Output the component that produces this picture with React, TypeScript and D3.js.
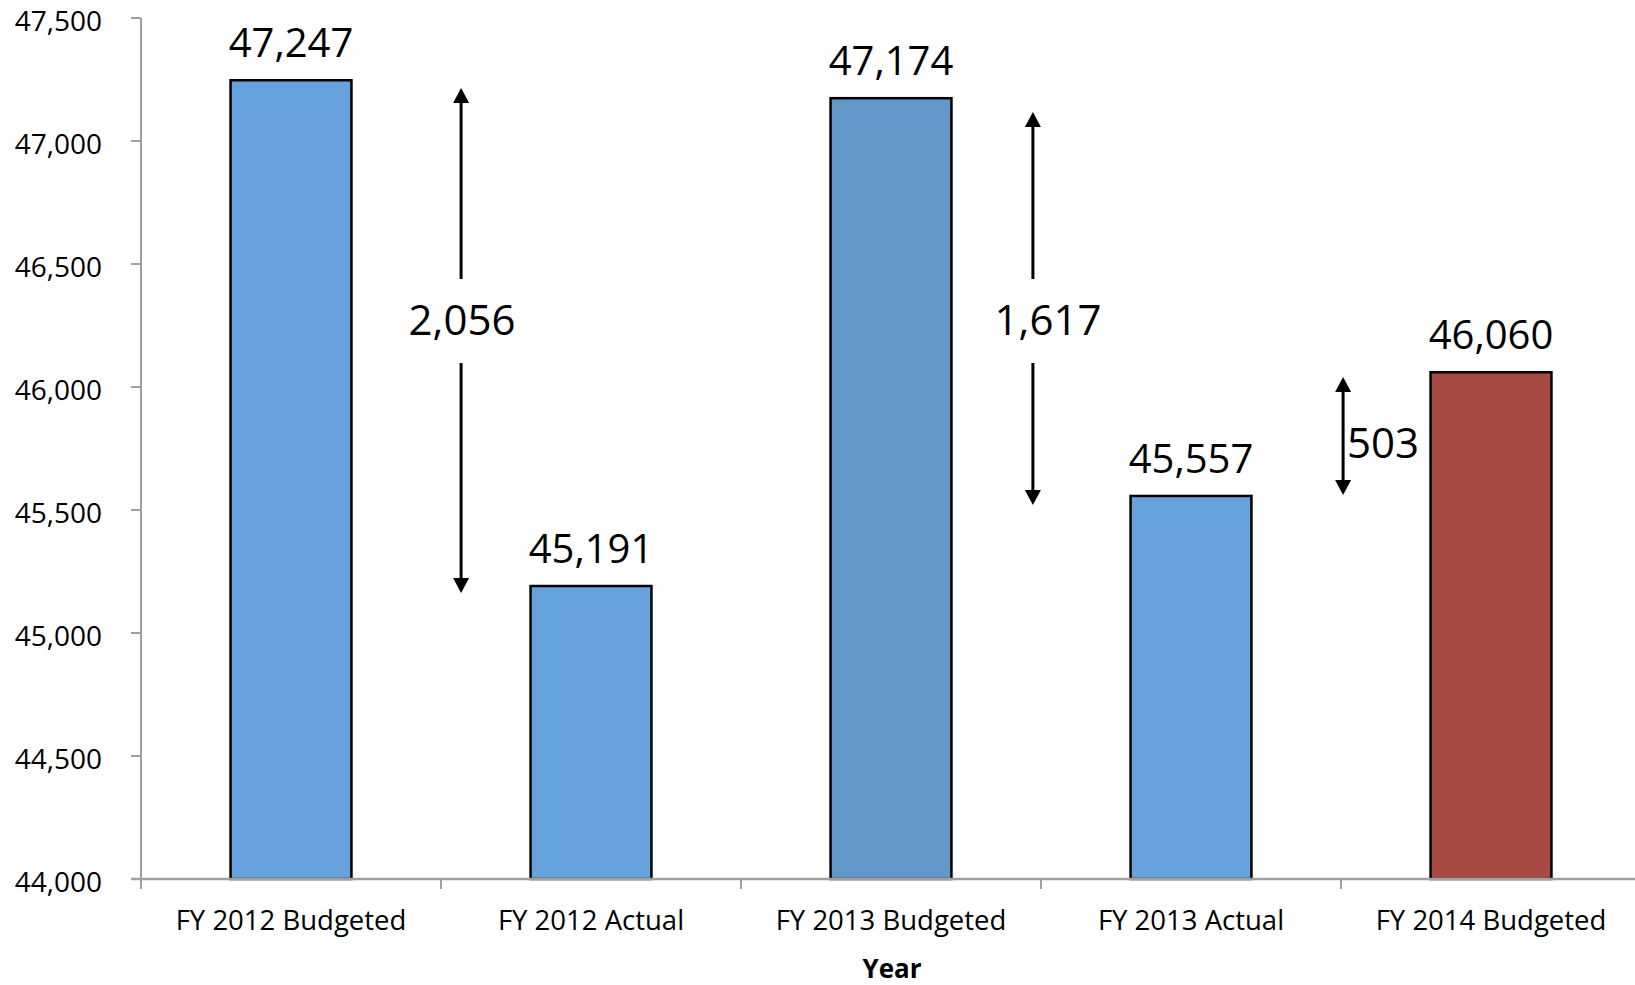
import React from "react";
import * as d3 from "d3";

const categories = ["FY 2012 Budgeted", "FY 2012 Actual", "FY 2013 Budgeted", "FY 2013 Actual", "FY 2014 Budgeted"];
const values = [47247, 45191, 47174, 45557, 46060];
const barColors = ["#66A3DE", "#66A3DE", "#6497C9", "#66A3DE", "#A84A44"];
const yTicks = [44000, 44500, 45000, 45500, 46000, 46500, 47000, 47500];
const diffLabels = ["2,056", "1,617", "503"];
const diffTop = [47215, 47118, 46041];
const diffBottom = [45163, 45520, 45561];
const xTitle = "Year";

const W = 1635;
const H = 985;
const left = 141;
const band = 300;
const top = 18;
const bottom = 879;
const FONT = "'Open Sans', 'Noto Sans', sans-serif";

export default function App() {
  const x = d3.scaleBand<string>().domain(categories).range([left, left + band * categories.length]).padding(0);
  const y = d3.scaleLinear().domain([44000, 47500]).range([bottom, top]);
  const bw = x.bandwidth() * 0.403;
  const arrowX = [1.067, 2.973, 4.007].map((f) => left + f * band);
  const labelMode = ["center", "center", "left"];
  const labelX = [462, 1048, 1347];
  const labelY = [320, 320, 443];
  const gapTop = [279, 279, null];
  const gapBottom = [363, 363, null];
  const head = (xc: number, yt: number, dir: number) => {
    const hw = 8;
    const hh = 15;
    return `M${xc},${yt} L${xc - hw},${yt + dir * hh} L${xc + hw},${yt + dir * hh} Z`;
  };

  return (
    <svg width={W} height={H} style={{ position: "absolute", left: 0, top: 0, background: "#fff" }} fontFamily={FONT}>
      <line x1={left} x2={left} y1={top} y2={bottom} stroke="#A0A0A0" strokeWidth={2} />
      {yTicks.map((t) => (
        <g key={t}>
          <line x1={left - 10} x2={left} y1={y(t)} y2={y(t)} stroke="#A0A0A0" strokeWidth={2} />
          <text x={102} y={y(t)} dy="0.46em" textAnchor="end" fontSize={28} fill="#000">
            {d3.format(",")(t)}
          </text>
        </g>
      ))}
      {categories.map((c, i) => {
        const cx = (x(c) as number) + x.bandwidth() / 2;
        return (
          <g key={c}>
            <rect x={cx - bw / 2} y={y(values[i])} width={bw} height={bottom - y(values[i])} fill={barColors[i]} stroke="#000" strokeWidth={2.5} />
            <text x={cx} y={y(values[i]) - 23} textAnchor="middle" fontSize={40} fill="#000">
              {d3.format(",")(values[i])}
            </text>
            <text x={cx} y={930} textAnchor="middle" fontSize={27.5} fill="#000">
              {c}
            </text>
          </g>
        );
      })}
      <line x1={left - 10} x2={W} y1={bottom} y2={bottom} stroke="#A0A0A0" strokeWidth={2.5} />
      {categories.map((c, i) => (
        <line key={c} x1={left + i * band} x2={left + i * band} y1={bottom} y2={bottom + 10} stroke="#A0A0A0" strokeWidth={2} />
      ))}
      <text x={892} y={978} textAnchor="middle" fontSize={26} fontWeight="bold" fill="#000">
        {xTitle}
      </text>
      {diffLabels.map((lab, i) => {
        const xa = arrowX[i];
        const yt = y(diffTop[i]);
        const yb = y(diffBottom[i]);
        const gt = gapTop[i];
        const gb = gapBottom[i];
        return (
          <g key={lab}>
            {gt != null && gb != null ? (
              <>
                <line x1={xa} x2={xa} y1={yt + 10} y2={gt} stroke="#000" strokeWidth={3} />
                <line x1={xa} x2={xa} y1={gb} y2={yb - 10} stroke="#000" strokeWidth={3} />
              </>
            ) : (
              <line x1={xa} x2={xa} y1={yt + 10} y2={yb - 10} stroke="#000" strokeWidth={3} />
            )}
            <path d={head(xa, yt, 1)} fill="#000" />
            <path d={head(xa, yb, -1)} fill="#000" />
            <text x={labelX[i]} y={labelY[i]} dy="0.36em" textAnchor={labelMode[i] === "left" ? "start" : "middle"} fontSize={42} fill="#000">
              {lab}
            </text>
          </g>
        );
      })}
    </svg>
  );
}
